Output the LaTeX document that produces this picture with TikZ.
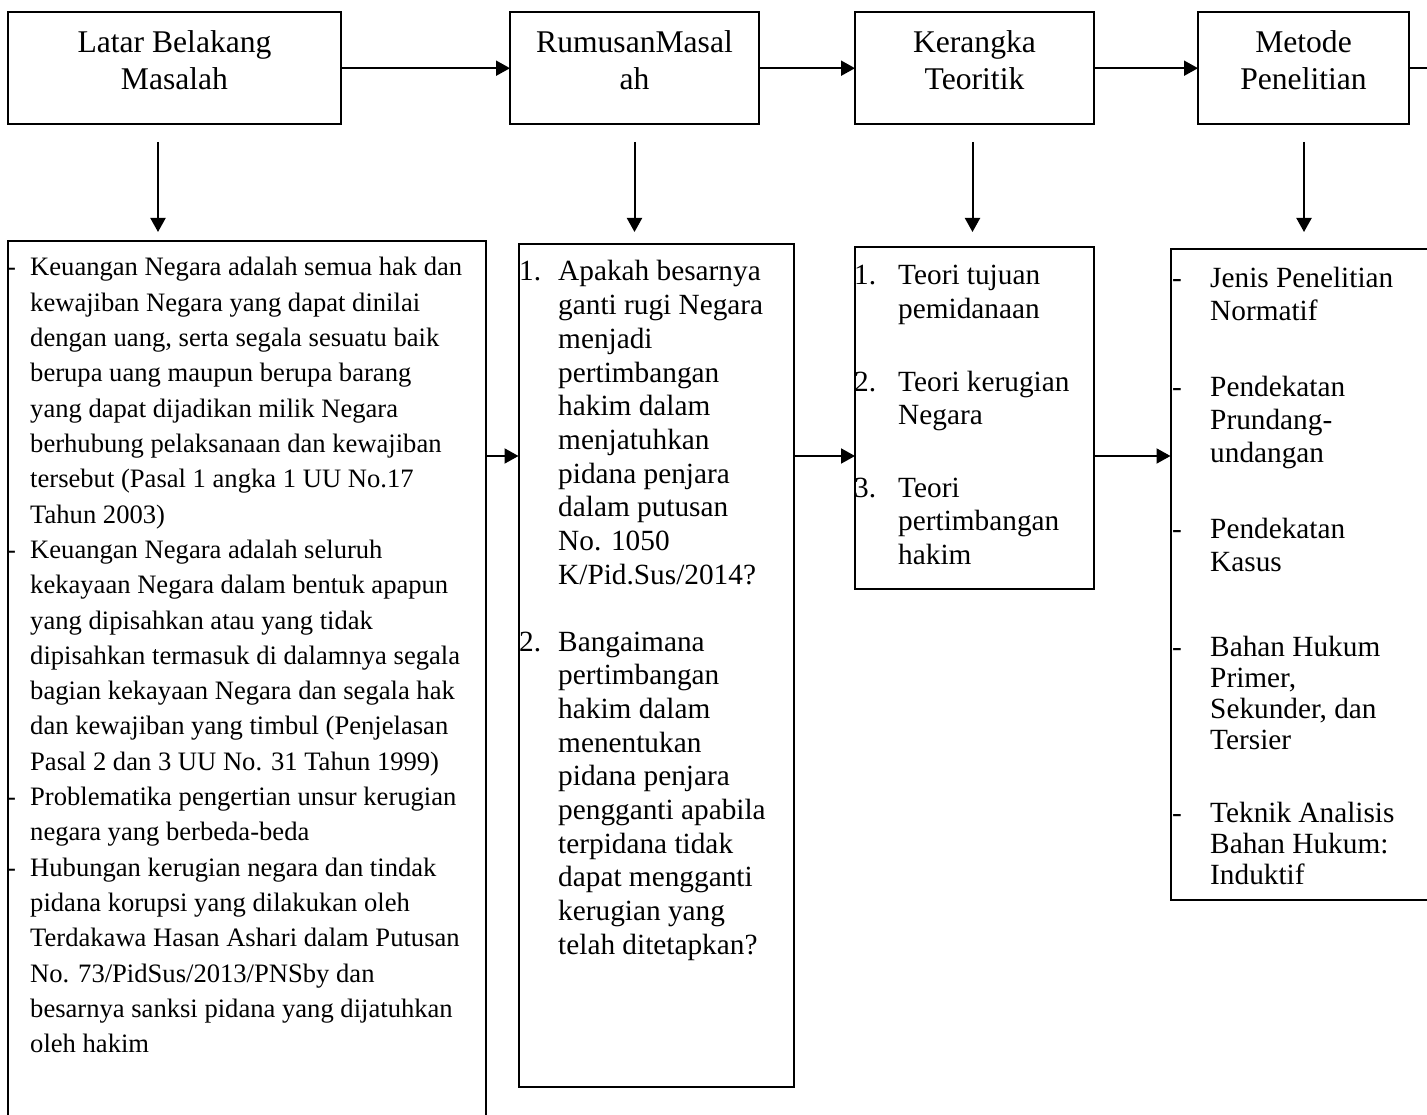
\documentclass[tikz,border=0pt]{standalone}
\usepackage{fontspec}
\setmainfont{Liberation Serif}
\usetikzlibrary{arrows.meta}
\tikzset{
  box/.style={draw, line width=2pt, inner sep=0pt, outer sep=0pt},
  arr/.style={line width=2pt, -{Triangle[length=14pt,width=15pt]}},
  plain/.style={line width=2pt},
  head/.style={font=\fontsize{31.6}{37}\selectfont, anchor=base, inner sep=0pt},
  bodyA/.style={font=\fontsize{26.6}{35.3}\selectfont, anchor=base west, inner sep=0pt},
  bodyB/.style={font=\fontsize{29.3}{33.7}\selectfont, anchor=base west, inner sep=0pt},
}
\begin{document}
\begin{tikzpicture}[x=1pt,y=-1pt]
\fill[white] (0,0) rectangle (1427,1115);
\useasboundingbox (0,0) rectangle (1427,1115);

% top boxes
\node[box, minimum width=333pt, minimum height=112.3pt] (A) at (174.5,68.2) {};
\node[box, minimum width=249pt, minimum height=112.3pt] (B) at (634.5,68.2) {};
\node[box, minimum width=239pt, minimum height=112.3pt] (C) at (974.5,68.2) {};
\node[box, minimum width=211pt, minimum height=112.3pt] (D) at (1303.5,68.2) {};

\node[head] (A1) at (174.5,53) {Latar Belakang};
\node[head] (A2) at (174.5,90) {Masalah};
\node[head] (B1) at (634.5,53) {RumusanMasal};
\node[head] (B2) at (634.5,90) {ah};
\node[head] (C1) at (974.5,53) {Kerangka};
\node[head] (C2) at (974.5,90) {Teoritik};
\node[head] (D1) at (1303.5,53) {Metode};
\node[head] (D2) at (1303.5,90) {Penelitian};

\draw[arr] (A) -- (B);
\draw[arr] (B) -- (C);
\draw[arr] (C) -- (D);
\coordinate (edgeR) at (1427,68.2);
\draw[plain] (D) -- (edgeR);

% down arrows
\coordinate (a1) at (158,142);   \coordinate (a2) at (158,232);
\coordinate (b1) at (634.5,142); \coordinate (b2) at (634.5,232);
\coordinate (c1) at (972.5,142); \coordinate (c2) at (972.5,232);
\coordinate (d1) at (1304,142);  \coordinate (d2) at (1304,232);
\draw[arr] (a1) -- (a2);
\draw[arr] (b1) -- (b2);
\draw[arr] (c1) -- (c2);
\draw[arr] (d1) -- (d2);

% lower boxes
\node[box, minimum width=477.5pt, minimum height=899pt] (L1) at (246.75,690.5) {};
\node[box, minimum width=275pt, minimum height=842.5pt] (L2) at (656,665.75) {};
\node[box, minimum width=239pt, minimum height=341.5pt] (L3) at (974.5,418.25) {};
\node[box, minimum width=279.5pt, minimum height=651pt] (L4) at (1310.25,574.5) {};

\coordinate (row) at (0,456);
\draw[arr] (L1.east |- row) -- (L2.west |- row);
\draw[arr] (L2.east |- row) -- (L3.west |- row);
\draw[arr] (L3.east |- row) -- (L4.west |- row);

% L1 text
\foreach \ltx [count=\i] in {
  Keuangan Negara adalah semua hak dan,
  kewajiban Negara yang dapat dinilai,
  {dengan uang, serta segala sesuatu baik},
  berupa uang maupun berupa barang,
  yang dapat dijadikan milik Negara,
  berhubung pelaksanaan dan kewajiban,
  tersebut (Pasal 1 angka 1 UU No.17,
  Tahun 2003),
  Keuangan Negara adalah seluruh,
  kekayaan Negara dalam bentuk apapun,
  yang dipisahkan atau yang tidak,
  dipisahkan termasuk di dalamnya segala,
  bagian kekayaan Negara dan segala hak,
  dan kewajiban yang timbul (Penjelasan,
  Pasal 2 dan 3 UU No. 31 Tahun 1999),
  Problematika pengertian unsur kerugian,
  negara yang berbeda-beda,
  Hubungan kerugian negara dan tindak,
  pidana korupsi yang dilakukan oleh,
  Terdakawa Hasan Ashari dalam Putusan,
  No. 73/PidSus/2013/PNSby dan,
  besarnya sanksi pidana yang dijatuhkan,
  oleh hakim}
  \node[bodyA] (p\i) at (30,{276+35.3*(\i-1)}) {\ltx};
\foreach \k in {1,9,16,18}
  \node[bodyA] (pd\k) at (7,{276+35.3*(\k-1)}) {-};

% L2 text
\node[bodyB] (qn1) at (519,281) {1.};
\foreach \ltx [count=\i] in {
  Apakah besarnya, ganti rugi Negara, menjadi, pertimbangan,
  hakim dalam, menjatuhkan, pidana penjara, dalam putusan,
  No. 1050, K/Pid.Sus/2014?}
  \node[bodyB] (qa\i) at (558,{281+33.7*(\i-1)}) {\ltx};
\node[bodyB] (qn2) at (519,651) {2.};
\foreach \ltx [count=\i] in {
  Bangaimana, pertimbangan, hakim dalam, menentukan, pidana penjara,
  pengganti apabila, terpidana tidak, dapat mengganti, kerugian yang,
  telah ditetapkan?}
  \node[bodyB] (qb\i) at (558,{651+33.7*(\i-1)}) {\ltx};

% L3 text
\node[bodyB] (rn1) at (854,285) {1.};
\node[bodyB] (rn2) at (854,391) {2.};
\node[bodyB] (rn3) at (854,497) {3.};
\foreach \yy/\ltx [count=\i] in {285/Teori tujuan, 318.5/pemidanaan,
  391/Teori kerugian, 424.5/Negara, 497/Teori, 530.5/pertimbangan, 564/hakim}
  \node[bodyB] (r\i) at (898,\yy) {\ltx};

% L4 text
\foreach \yy [count=\i] in {288,396,538,656,822}
  \node[bodyB] (sd\i) at (1172,\yy) {-};
\foreach \yy/\ltx [count=\i] in {288/Jenis Penelitian, 321/Normatif,
  396/Pendekatan, 429/Prundang-, 462/undangan,
  538/Pendekatan, 571/Kasus,
  656/Bahan Hukum, 687/{Primer,}, 718/{Sekunder, dan}, 749/Tersier,
  822/Teknik Analisis, 853/Bahan Hukum:, 884/Induktif}
  \node[bodyB] (s\i) at (1210,\yy) {\ltx};
\end{tikzpicture}
\end{document}
